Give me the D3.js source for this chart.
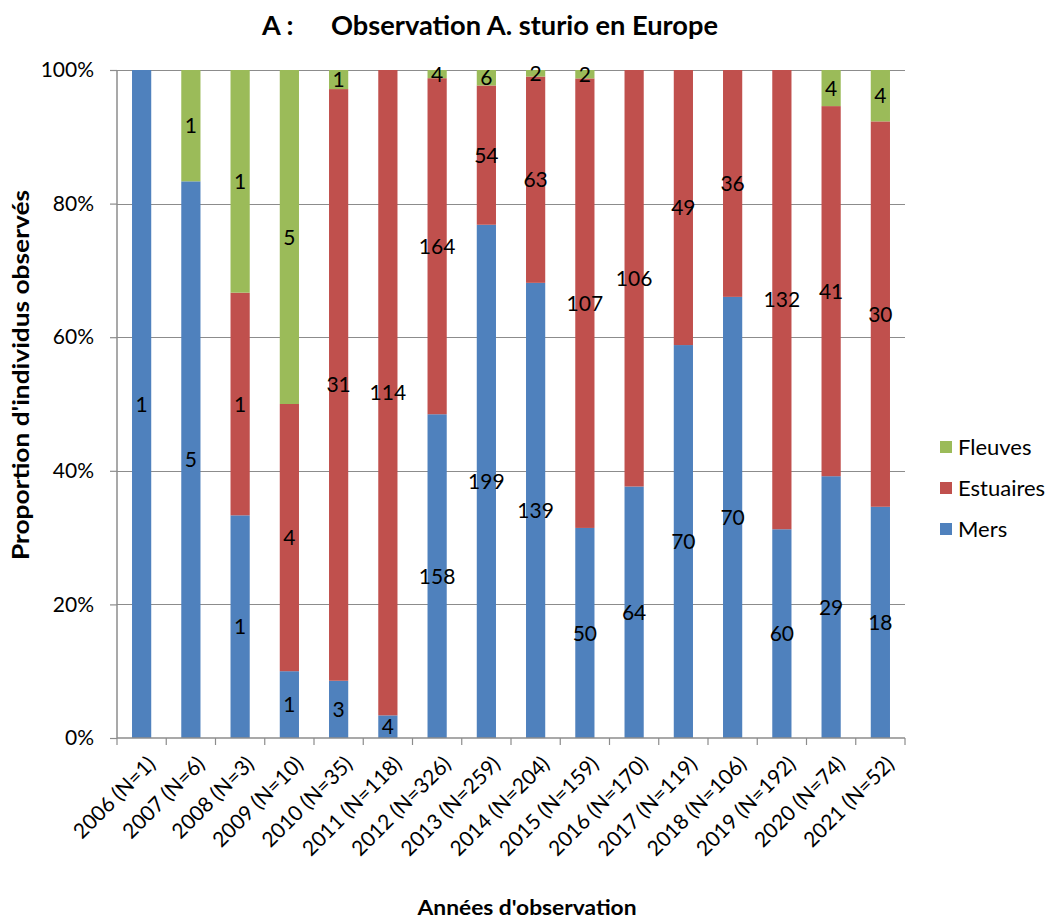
<!DOCTYPE html>
<html>
<head>
<meta charset="utf-8">
<script src="https://cdn.jsdelivr.net/npm/d3@7"></script>
<style>
  html, body { margin: 0; padding: 0; background: #fff; }
  svg { display: block; font-family: Lato, "Open Sans", sans-serif; }
</style>
</head>
<body>
<svg id="chart" width="1052" height="923"></svg>
<script>
// Observation counts per year, by habitat
const years = ["2006", "2007", "2008", "2009", "2010", "2011", "2012", "2013",
               "2014", "2015", "2016", "2017", "2018", "2019", "2020", "2021"];
const mers      = [1, 5, 1, 1, 3, 4, 158, 199, 139, 50, 64, 70, 70, 60, 29, 18];
const estuaires = [0, 0, 1, 4, 31, 114, 164, 54, 63, 107, 106, 49, 36, 132, 41, 30];
const fleuves   = [0, 1, 1, 5, 1, 0, 4, 6, 2, 2, 0, 0, 0, 0, 4, 4];
const seriesNames = ["Mers", "Estuaires", "Fleuves"];
const yTicks = [0, 0.2, 0.4, 0.6, 0.8, 1];

const colors = { Mers: "#4F81BD", Estuaires: "#C0504D", Fleuves: "#9BBB59" };

const rows = years.map((y, i) => {
  const n = mers[i] + estuaires[i] + fleuves[i];
  return { year: y, n, label: `${y} (N=${n})`, Mers: mers[i], Estuaires: estuaires[i], Fleuves: fleuves[i] };
});

const svg = d3.select("#chart");
const plot = { left: 117, right: 905, top: 70, bottom: 738 };

const x = d3.scaleBand()
  .domain(rows.map(d => d.label))
  .range([plot.left, plot.right])
  .paddingInner(0.61)
  .paddingOuter(0.305);

const y = d3.scaleLinear().domain([0, 1]).range([plot.bottom, plot.top]);

// Gridlines
svg.append("g")
  .selectAll("line")
  .data(yTicks.filter(t => t > 0))
  .join("line")
  .attr("x1", plot.left).attr("x2", plot.right)
  .attr("y1", d => Math.round(y(d)) + 0.5).attr("y2", d => Math.round(y(d)) + 0.5)
  .attr("stroke", "#8c8c8c").attr("stroke-width", 1.2);

// Stacked proportions
const stack = d3.stack()
  .keys(seriesNames)
  .value((d, key) => d[key] / d.n);
const layers = stack(rows);

const layerG = svg.append("g")
  .selectAll("g")
  .data(layers)
  .join("g")
  .attr("fill", d => colors[d.key]);

layerG.selectAll("rect")
  .data(d => d.map(s => ({ key: d.key, s })))
  .join("rect")
  .attr("x", d => x(d.s.data.label))
  .attr("width", x.bandwidth())
  .attr("y", d => y(d.s[1]))
  .attr("height", d => y(d.s[0]) - y(d.s[1]));

// Value labels in the middle of each non-empty segment
const labelG = svg.append("g")
  .attr("font-size", 21)
  .attr("fill", "#000")
  .attr("text-anchor", "middle");

layers.forEach(layer => {
  layer.forEach(s => {
    const v = s.data[layer.key];
    if (v > 0) {
      labelG.append("text")
        .attr("x", x(s.data.label) + x.bandwidth() / 2)
        .attr("y", y((s[0] + s[1]) / 2))
        .attr("dy", "0.36em")
        .text(v);
    }
  });
});

// Y axis
const yAxis = svg.append("g")
  .attr("transform", `translate(${plot.left},0)`)
  .call(d3.axisLeft(y).tickValues(yTicks).tickFormat(d3.format(".0%")).tickSize(7).tickPadding(16));
yAxis.select(".domain").attr("stroke", "#8c8c8c").attr("stroke-width", 1.5).attr("d", `M0,${plot.top}V${plot.bottom}`);
yAxis.selectAll(".tick line").attr("stroke", "#8c8c8c").attr("stroke-width", 1.2);
yAxis.selectAll(".tick text").attr("font-size", 21).attr("fill", "#000").attr("font-family", "Lato, sans-serif");

// X axis: ticks on category boundaries
const boundaries = d3.range(rows.length + 1).map(i => plot.left + (plot.right - plot.left) * i / rows.length);
const xAxisG = svg.append("g");
xAxisG.append("line")
  .attr("x1", plot.left).attr("x2", plot.right)
  .attr("y1", plot.bottom).attr("y2", plot.bottom)
  .attr("stroke", "#8c8c8c").attr("stroke-width", 1.5);
xAxisG.selectAll("line.tk")
  .data(boundaries)
  .join("line")
  .attr("class", "tk")
  .attr("x1", d => d).attr("x2", d => d)
  .attr("y1", plot.bottom).attr("y2", plot.bottom + 7)
  .attr("stroke", "#8c8c8c").attr("stroke-width", 1.2);

xAxisG.selectAll("text")
  .data(rows)
  .join("text")
  .attr("transform", d => `translate(${x(d.label) + x.bandwidth() / 2 + 10},${plot.bottom + 22}) rotate(-45)`)
  .attr("text-anchor", "end")
  .attr("dy", "0.35em")
  .attr("font-size", 21)
  .attr("fill", "#000")
  .text(d => d.label);

// Titles
svg.append("text")
  .attr("x", 262).attr("y", 35)
  .attr("font-size", 27).attr("font-weight", "bold")
  .text("A :");
svg.append("text")
  .attr("x", 331).attr("y", 35)
  .attr("font-size", 27).attr("font-weight", "bold")
  .attr("textLength", 387).attr("lengthAdjust", "spacingAndGlyphs")
  .text("Observation A. sturio en Europe");

svg.append("text")
  .attr("x", 527).attr("y", 915)
  .attr("text-anchor", "middle")
  .attr("font-size", 21).attr("font-weight", "bold")
  .attr("textLength", 219).attr("lengthAdjust", "spacingAndGlyphs")
  .text("Années d'observation");

svg.append("text")
  .attr("transform", "translate(29,375) rotate(-90)")
  .attr("text-anchor", "middle")
  .attr("font-size", 23).attr("font-weight", "bold")
  .attr("textLength", 370).attr("lengthAdjust", "spacingAndGlyphs")
  .text("Proportion d'individus observés");

// Legend
const legendItems = ["Fleuves", "Estuaires", "Mers"];
const legend = svg.append("g");
legendItems.forEach((k, i) => {
  const ly = 447 + i * 41;
  legend.append("rect")
    .attr("x", 940).attr("y", ly - 6).attr("width", 12).attr("height", 12)
    .attr("fill", colors[k]);
  legend.append("text")
    .attr("x", 958).attr("y", ly).attr("dy", "0.36em")
    .attr("font-size", 22)
    .text(k);
});
</script>
</body>
</html>
